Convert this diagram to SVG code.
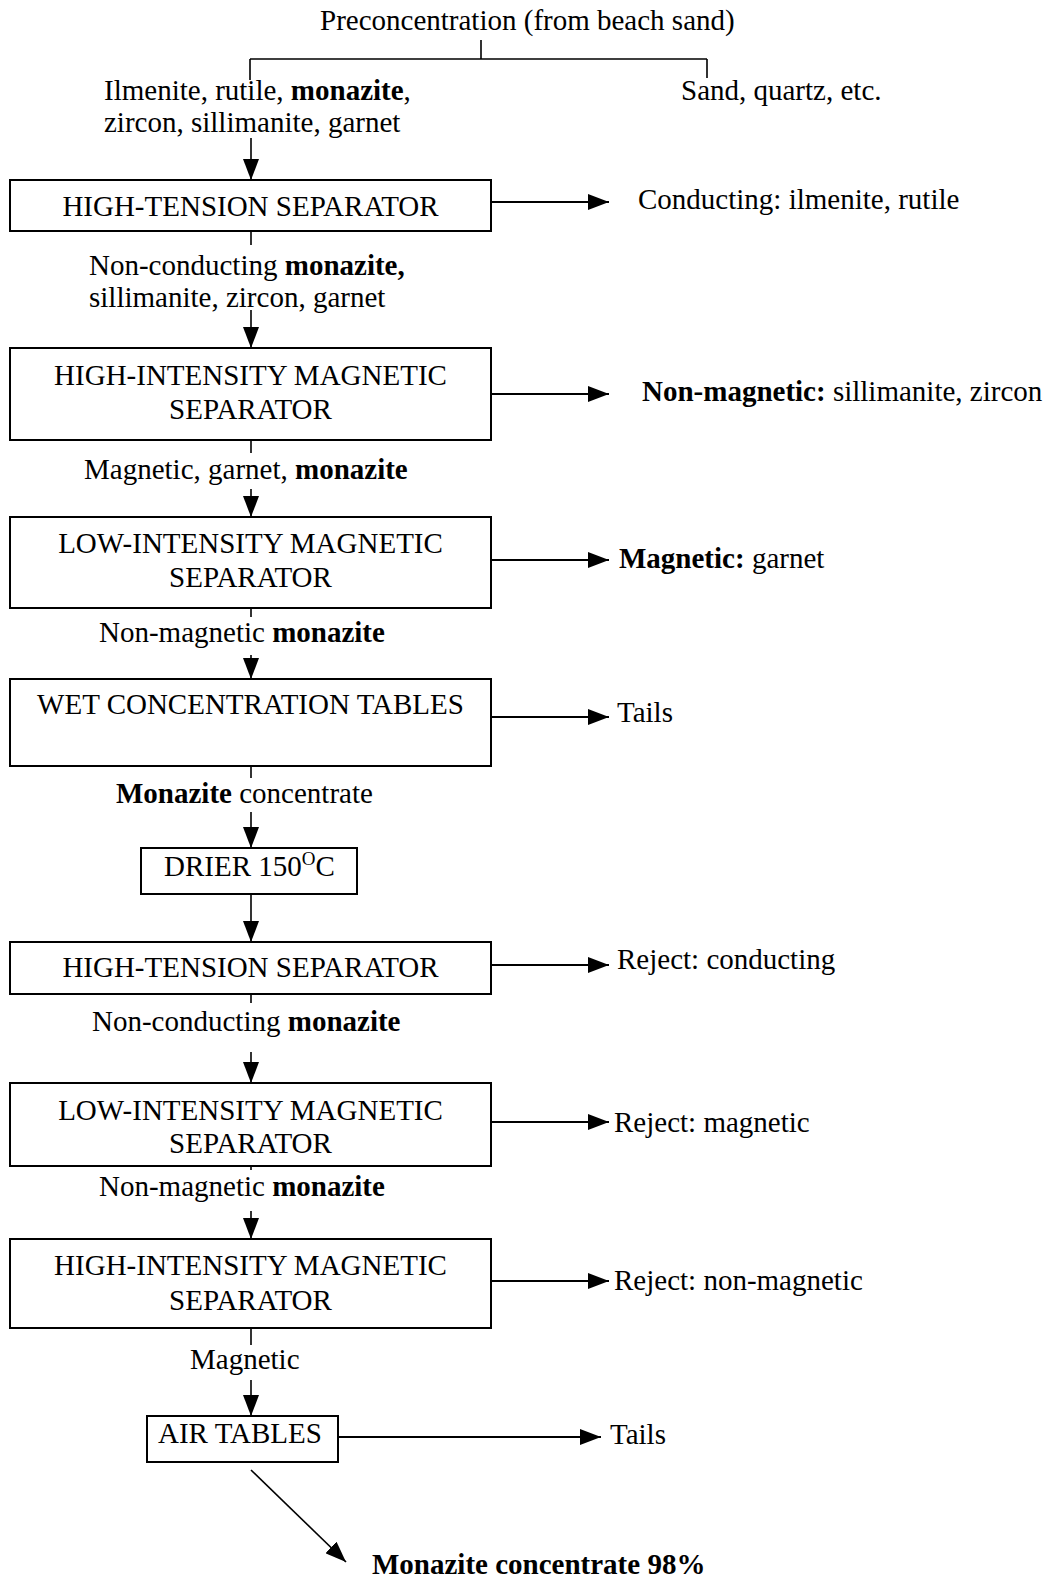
<svg xmlns="http://www.w3.org/2000/svg" width="1051" height="1579" viewBox="0 0 1051 1579">
<style>
text{font-family:"Liberation Serif","Times New Roman",serif;font-size:29px;fill:#000}
.c{text-anchor:middle}
.b{font-weight:bold}
.box{fill:#fff;stroke:#000;stroke-width:2}
.ln{stroke:#000;stroke-width:1.6;fill:none}
.ar{stroke:#000;stroke-width:2;fill:none;marker-end:url(#ah)}
.av{stroke:#000;stroke-width:1.6;fill:none;marker-end:url(#ah)}
</style>
<defs>
<marker id="ah" viewBox="0 0 21 16" refX="21" refY="8" markerWidth="21" markerHeight="16" markerUnits="userSpaceOnUse" orient="auto">
<path d="M0,0 L21,8 L0,16 z" fill="#000"/>
</marker>
</defs>
<rect width="1051" height="1579" fill="#fff"/>
<g id="connectors">
<path class="ln" d="M481,40 V59 M250,59 H707 M250,59 V80 M707,59 V78"/>
<path class="av" d="M251,138 V180"/>
<path class="ln" d="M251,231 V245"/>
<path class="av" d="M251,310 V348"/>
<path class="ln" d="M251,440 V453"/>
<path class="av" d="M251,489 V517"/>
<path class="ln" d="M251,608 V617"/>
<path class="av" d="M251,655 V679"/>
<path class="ln" d="M251,766 V778"/>
<path class="av" d="M251,812 V848"/>
<path class="av" d="M251,894 V942"/>
<path class="ln" d="M251,994 V1003"/>
<path class="av" d="M251,1052 V1083"/>
<path class="ln" d="M251,1166 V1170"/>
<path class="av" d="M251,1211 V1239"/>
<path class="ln" d="M251,1328 V1345"/>
<path class="av" d="M251,1380 V1416"/>
<path class="av" d="M251,1470 L346,1562"/>
<path class="ar" d="M491,202 H609"/>
<path class="ar" d="M491,394 H609"/>
<path class="ar" d="M491,560 H609"/>
<path class="ar" d="M491,717 H609"/>
<path class="ar" d="M491,965 H609"/>
<path class="ar" d="M491,1122 H609"/>
<path class="ar" d="M491,1281 H609"/>
<path class="ar" d="M338,1437 H601"/>
</g>
<g id="preconcentration"><text x="320" y="30">Preconcentration (from beach sand)</text></g>
<g id="heavy-minerals"><text x="104" y="100">Ilmenite, rutile, <tspan class="b">monazite</tspan>,</text><text x="104" y="132">zircon, sillimanite, garnet</text></g>
<g id="sand"><text x="681" y="100">Sand, quartz, etc.</text></g>
<g id="ht1"><rect class="box" x="10" y="180" width="481" height="51"/><text class="c" x="250.5" y="216">HIGH-TENSION SEPARATOR</text></g>
<g id="conducting1"><text x="638" y="209">Conducting: ilmenite, rutile</text></g>
<g id="lbl1"><text x="89" y="275">Non-conducting <tspan class="b">monazite,</tspan></text><text x="89" y="307">sillimanite, zircon, garnet</text></g>
<g id="hims1"><rect class="box" x="10" y="348" width="481" height="92"/><text class="c" x="250.5" y="385">HIGH-INTENSITY MAGNETIC</text><text class="c" x="250.5" y="419">SEPARATOR</text></g>
<g id="nonmag1"><text x="642" y="401"><tspan class="b">Non-magnetic:</tspan> sillimanite, zircon</text></g>
<g id="lbl2"><text x="84" y="479">Magnetic, garnet, <tspan class="b">monazite</tspan></text></g>
<g id="lims1"><rect class="box" x="10" y="517" width="481" height="91"/><text class="c" x="250.5" y="553">LOW-INTENSITY MAGNETIC</text><text class="c" x="250.5" y="587">SEPARATOR</text></g>
<g id="mag1"><text x="619" y="568"><tspan class="b">Magnetic:</tspan> garnet</text></g>
<g id="lbl3"><text x="99" y="642">Non-magnetic <tspan class="b">monazite</tspan></text></g>
<g id="wet"><rect class="box" x="10" y="679" width="481" height="87"/><text class="c" x="250.5" y="714">WET CONCENTRATION TABLES</text></g>
<g id="tails1"><text x="617" y="722">Tails</text></g>
<g id="lbl4"><text x="116" y="803"><tspan class="b">Monazite</tspan> concentrate</text></g>
<g id="drier"><rect class="box" x="141" y="848" width="216" height="46"/><text x="164" y="876">DRIER 150<tspan font-size="19" dy="-11">O</tspan><tspan dy="11">C</tspan></text></g>
<g id="ht2"><rect class="box" x="10" y="942" width="481" height="52"/><text class="c" x="250.5" y="977">HIGH-TENSION SEPARATOR</text></g>
<g id="reject1"><text x="617" y="969">Reject: conducting</text></g>
<g id="lbl5"><text x="92" y="1031">Non-conducting <tspan class="b">monazite</tspan></text></g>
<g id="lims2"><rect class="box" x="10" y="1083" width="481" height="83"/><text class="c" x="250.5" y="1120">LOW-INTENSITY MAGNETIC</text><text class="c" x="250.5" y="1153">SEPARATOR</text></g>
<g id="reject2"><text x="614" y="1132">Reject: magnetic</text></g>
<g id="lbl6"><text x="99" y="1196">Non-magnetic <tspan class="b">monazite</tspan></text></g>
<g id="hims2"><rect class="box" x="10" y="1239" width="481" height="89"/><text class="c" x="250.5" y="1275">HIGH-INTENSITY MAGNETIC</text><text class="c" x="250.5" y="1310">SEPARATOR</text></g>
<g id="reject3"><text x="614" y="1290">Reject: non-magnetic</text></g>
<g id="lbl7"><text x="190" y="1369">Magnetic</text></g>
<g id="air"><rect class="box" x="147" y="1416" width="191" height="46"/><text x="158" y="1443">AIR TABLES</text></g>
<g id="tails2"><text x="610" y="1444">Tails</text></g>
<g id="product"><text class="b" x="372" y="1574">Monazite concentrate 98%</text></g>
</svg>
